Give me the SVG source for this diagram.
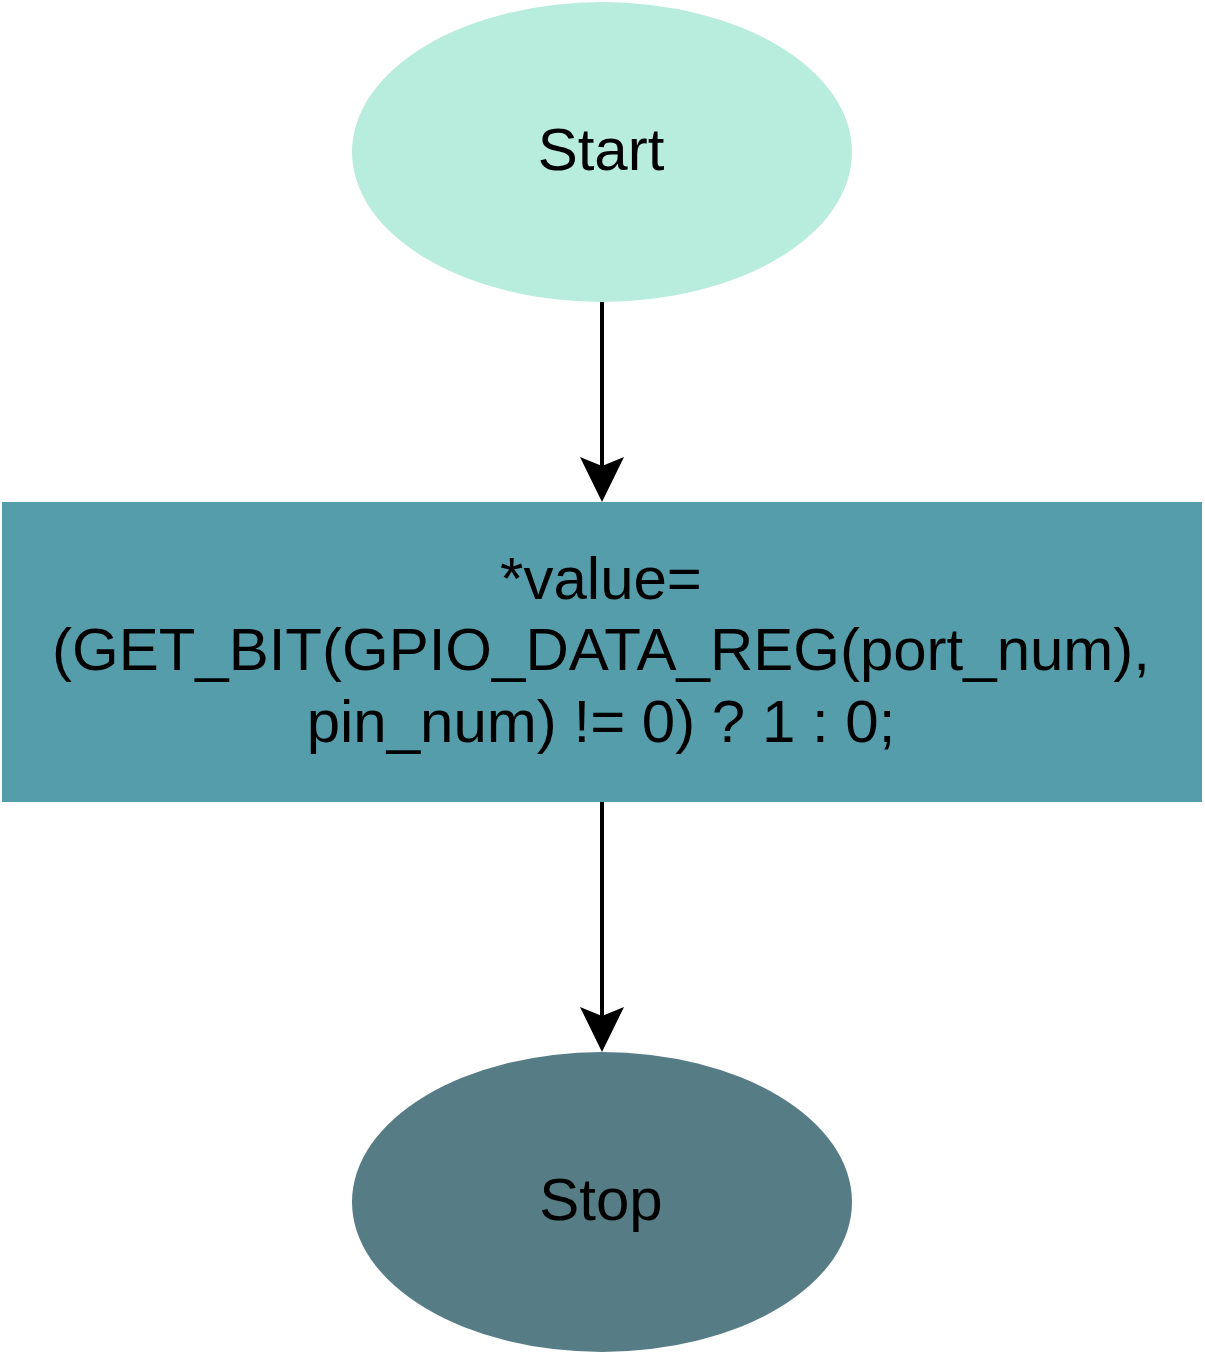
<svg xmlns="http://www.w3.org/2000/svg" width="1205" height="1355" viewBox="0 0 1205 1355">
<style>
text{font-family:"Liberation Sans",Arial,sans-serif;font-size:60px;fill:#000;text-anchor:middle}
.edge{stroke:#000;stroke-width:4;fill:none}
.head{fill:#000}
</style>
<rect width="1205" height="1355" fill="#ffffff"/>
<g id="connectors">
<line class="edge" x1="602" y1="302" x2="602" y2="470"/>
<path class="head" d="M602,502 L580,457 L602,466 L624,457 Z"/>
<line class="edge" x1="602" y1="802" x2="602" y2="1020"/>
<path class="head" d="M602,1052 L580,1007 L602,1016 L624,1007 Z"/>
</g>
<g id="start">
<ellipse cx="602" cy="152" rx="250" ry="150" fill="#b8ecdd"/>
<text x="601" y="170">Start</text>
</g>
<g id="process">
<rect x="2" y="502" width="1200" height="300" fill="#559daa"/>
<text x="601" y="599">*value=</text>
<text x="601" y="670">(GET_BIT(GPIO_DATA_REG(port_num),</text>
<text x="601" y="742">pin_num) != 0) ? 1 : 0;</text>
</g>
<g id="stop">
<ellipse cx="602" cy="1202" rx="250" ry="150" fill="#567d85"/>
<text x="601" y="1220">Stop</text>
</g>
</svg>
